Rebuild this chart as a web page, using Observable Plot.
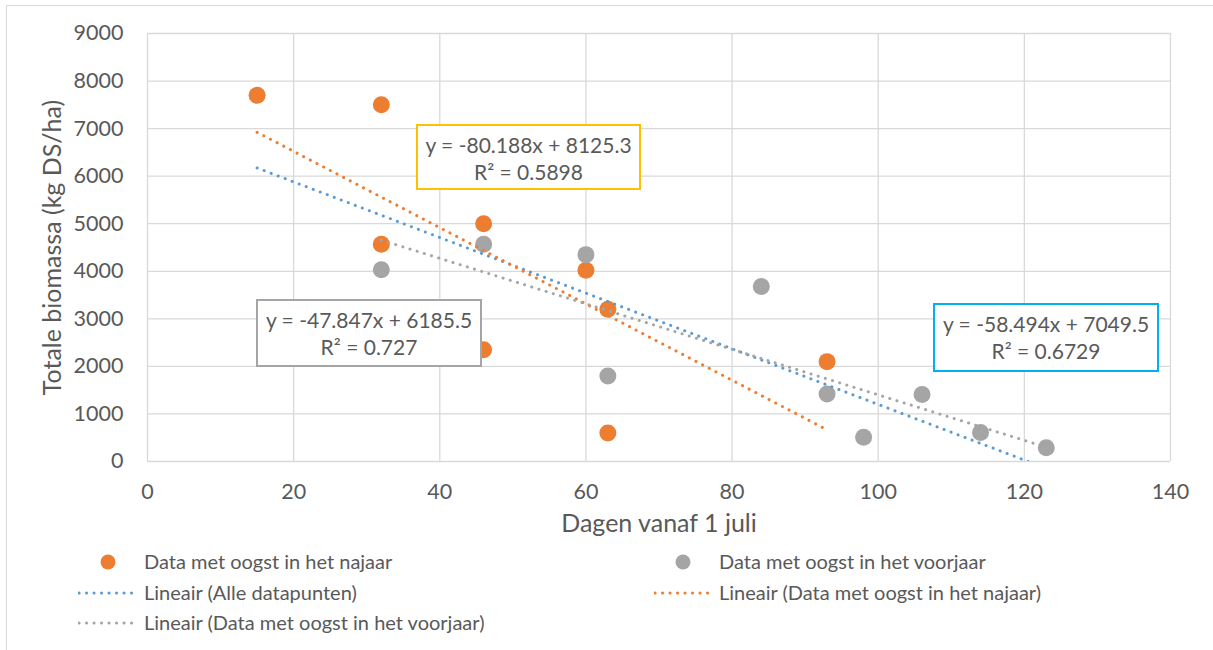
<!DOCTYPE html>
<html><head><meta charset="utf-8">
<script src="https://cdn.jsdelivr.net/npm/d3@7"></script>
<script src="https://cdn.jsdelivr.net/npm/@observablehq/plot@0.6"></script>
<style>
body{margin:0;background:#fff;font-family:Lato,sans-serif;color:#595959;}
#wrap{position:relative;width:1213px;height:650px;overflow:hidden;background:#fff;}
#border{position:absolute;left:6px;top:5px;width:1240px;height:700px;border:1px solid #d9d9d9;}
#chart{position:absolute;left:0;top:0;}
.box{position:absolute;border:2px solid;text-align:center;font-size:21px;line-height:27px;box-sizing:border-box;padding-top:5px;background:#fff;white-space:nowrap;}
.leg{position:absolute;font-size:20px;line-height:24px;white-space:nowrap;}
.sym{position:absolute;}
</style>
</head><body>
<div id="wrap"><div id="border"></div><div id="chart"></div></div>
<script>
// ---- data ----
const najaarX = [15, 32, 32, 46, 46, 60, 63, 63, 93];
const najaarY = [7700, 7500, 4570, 5000, 2350, 4020, 3200, 600, 2100];
const voorjaarX = [32, 46, 60, 63, 84, 93, 98, 106, 114, 123];
const voorjaarY = [4030, 4570, 4350, 1800, 3680, 1420, 510, 1410, 610, 290];
const xTicks = [0, 20, 40, 60, 80, 100, 120, 140];
const yTicks = [0, 1000, 2000, 3000, 4000, 5000, 6000, 7000, 8000, 9000];
const xLabel = "Dagen vanaf 1 juli";
const yLabel = "Totale biomassa (kg DS/ha)";
const seriesNames = ["Data met oogst in het najaar", "Data met oogst in het voorjaar",
  "Lineair (Alle datapunten)", "Lineair (Data met oogst in het najaar)",
  "Lineair (Data met oogst in het voorjaar)"];
const eqTexts = [
  ["y = -80.188x + 8125.3", "R² = 0.5898"],
  ["y = -47.847x + 6185.5", "R² = 0.727"],
  ["y = -58.494x + 7049.5", "R² = 0.6729"]
];

const najaar = najaarX.map((x, i) => ({x, y: najaarY[i]}));
const voorjaar = voorjaarX.map((x, i) => ({x, y: voorjaarY[i]}));
const all = najaar.concat(voorjaar);

const cOrange = "#ED7D31", cGray = "#A5A5A5", cBlue = "#5B9BD5";
const dotted = {strokeWidth: 3, strokeDasharray: "0.1 7.4", strokeLinecap: "round", ci: 0, clip: true};

const chart = Plot.plot({
  width: 1213, height: 545,
  marginLeft: 147, marginRight: 43, marginTop: 33, marginBottom: 84,
  style: {fontFamily: "Lato", fontSize: "21.5px", color: "#595959", background: "transparent", overflow: "visible"},
  x: {domain: [0, 140], ticks: xTicks, tickFormat: d => String(d), label: null, tickSize: 0, tickPadding: 23},
  y: {domain: [0, 9000], ticks: yTicks, tickFormat: d => String(d), label: null, tickSize: 0, tickPadding: 24},
  marks: [
    Plot.gridX(xTicks, {stroke: "#d9d9d9", strokeOpacity: 1, strokeWidth: 1.3}),
    Plot.gridY(yTicks, {stroke: "#d9d9d9", strokeOpacity: 1, strokeWidth: 1.3}),
    Plot.axisX({ticks: xTicks, tickFormat: d => String(d), tickSize: 0, tickPadding: 22, label: null}),
    Plot.axisY({ticks: yTicks, tickFormat: d => String(d), tickSize: 0, tickPadding: 24, label: null}),
    Plot.text([xLabel], {frameAnchor: "bottom", dy: 70, fontSize: 25, fill: "#595959"}),
    Plot.text([yLabel], {frameAnchor: "left", textAnchor: "middle", dx: -95, rotate: -90, fontSize: 25, fill: "#595959"}),
    Plot.dot(najaar, {x: "x", y: "y", r: 8.5, fill: cOrange}),
    Plot.dot(voorjaar, {x: "x", y: "y", r: 8.5, fill: cGray}),
    Plot.linearRegressionY(all, {x: "x", y: "y", stroke: cBlue, ...dotted}),
    Plot.linearRegressionY(najaar, {x: "x", y: "y", stroke: cOrange, ...dotted}),
    Plot.linearRegressionY(voorjaar, {x: "x", y: "y", stroke: cGray, ...dotted})
  ]
});
document.getElementById("chart").appendChild(chart);

const wrap = document.getElementById("wrap");
// equation boxes
const boxes = [
  {left: 416, top: 124, w: 225, h: 66, color: "#FFC000", t: eqTexts[0]},
  {left: 256, top: 299, w: 226, h: 68, color: "#A5A5A5", t: eqTexts[1]},
  {left: 933, top: 303, w: 226, h: 69, color: "#00B0F0", t: eqTexts[2]}
];
boxes.forEach(b => {
  const d = document.createElement("div");
  d.className = "box";
  Object.assign(d.style, {left: b.left + "px", top: b.top + "px", width: b.w + "px", height: b.h + "px", borderColor: b.color});
  d.innerHTML = b.t[0] + "<br>" + b.t[1];
  wrap.appendChild(d);
});

// legend
const legItems = [
  {name: seriesNames[0], type: "dot", color: cOrange, sx: 108, tx: 144, y: 562},
  {name: seriesNames[1], type: "dot", color: cGray, sx: 683, tx: 719, y: 562},
  {name: seriesNames[2], type: "line", color: cBlue, sx: 78, tx: 144, y: 593},
  {name: seriesNames[3], type: "line", color: cOrange, sx: 654, tx: 719, y: 593},
  {name: seriesNames[4], type: "line", color: cGray, sx: 78, tx: 144, y: 623}
];
const ns = "http://www.w3.org/2000/svg";
legItems.forEach(it => {
  const svg = document.createElementNS(ns, "svg");
  svg.setAttribute("class", "sym");
  if (it.type === "dot") {
    svg.setAttribute("width", 20); svg.setAttribute("height", 20);
    svg.style.left = (it.sx - 10) + "px"; svg.style.top = (it.y - 10) + "px";
    const c = document.createElementNS(ns, "circle");
    c.setAttribute("cx", 10); c.setAttribute("cy", 10); c.setAttribute("r", 7.5);
    c.setAttribute("fill", it.color);
    svg.appendChild(c);
  } else {
    svg.setAttribute("width", 64); svg.setAttribute("height", 6);
    svg.style.left = it.sx + "px"; svg.style.top = (it.y - 3) + "px";
    const l = document.createElementNS(ns, "line");
    l.setAttribute("x1", 1); l.setAttribute("x2", 61); l.setAttribute("y1", 3); l.setAttribute("y2", 3);
    l.setAttribute("stroke", it.color); l.setAttribute("stroke-width", 3);
    l.setAttribute("stroke-dasharray", "0.1 7.4"); l.setAttribute("stroke-linecap", "round");
    svg.appendChild(l);
  }
  wrap.appendChild(svg);
  const t = document.createElement("div");
  t.className = "leg";
  t.textContent = it.name;
  t.style.left = it.tx + "px"; t.style.top = (it.y - 13) + "px";
  wrap.appendChild(t);
});
</script>
</body></html>
